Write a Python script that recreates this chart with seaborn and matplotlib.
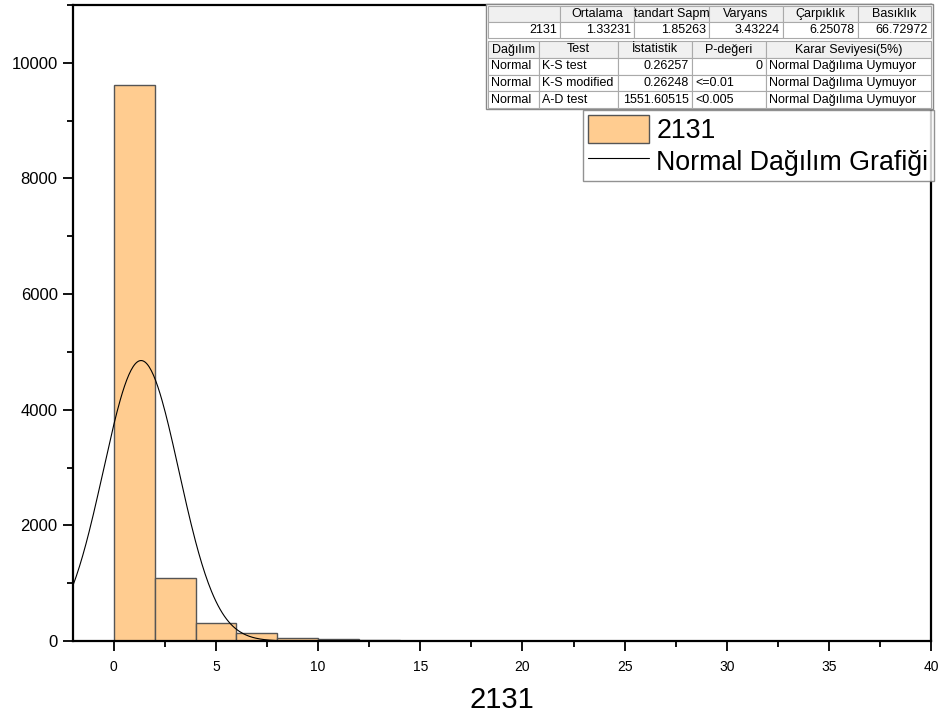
import numpy as np
import pandas as pd
import matplotlib
matplotlib.use("Agg")
import matplotlib.pyplot as plt
import seaborn as sns
from matplotlib.patches import Rectangle, Patch
from matplotlib.lines import Line2D

# Histogram of variable 2131 (bin width 2)
bin_edges = [0, 2, 4, 6, 8, 10, 12, 14]
bin_counts = [9620, 1085, 305, 135, 60, 38, 20]

# Descriptive statistics
stat_headers = ["", "Ortalama", "tandart Sapm", "Varyans", "Çarpıklık", "Basıklık"]
stat_values = ["2131", "1.33231", "1.85263", "3.43224", "6.25078", "66.72972"]
mean_val = 1.33231
sd_val = 1.85263

# Normality tests
test_headers = ["Dağılım", "Test", "İstatistik", "P-değeri", "Karar Seviyesi(5%)"]
test_rows = [
    ["Normal", "K-S test", "0.26257", "0", "Normal Dağılıma Uymuyor"],
    ["Normal", "K-S modified", "0.26248", "<=0.01", "Normal Dağılıma Uymuyor"],
    ["Normal", "A-D test", "1551.60515", "<0.005", "Normal Dağılıma Uymuyor"],
]

sns.set_theme(style="white")
plt.rcParams["font.family"] = ["Liberation Sans", "DejaVu Sans"]
plt.rcParams["text.color"] = "black"
plt.rcParams["axes.labelcolor"] = "black"
plt.rcParams["xtick.color"] = "black"
plt.rcParams["ytick.color"] = "black"

W, H = 944, 717
fig = plt.figure(figsize=(W / 100, H / 100), dpi=100)
ax = fig.add_axes([73 / W, 1 - 641 / H, (931 - 73) / W, (641 - 5) / H])

bar_color = "#FFCC90"
hist_df = pd.DataFrame({"x": [e + 1 for e in bin_edges[:-1]], "n": bin_counts})
sns.histplot(data=hist_df, x="x", weights="n", bins=bin_edges, ax=ax,
             color=bar_color, alpha=1.0, edgecolor="#555555", linewidth=1.0)

# Fitted normal curve scaled to counts per bin
n_total = sum(bin_counts)
bw = bin_edges[1] - bin_edges[0]
xs = np.linspace(-2, 40, 800)
ys = n_total * bw / (sd_val * np.sqrt(2 * np.pi)) * np.exp(-0.5 * ((xs - mean_val) / sd_val) ** 2)
sns.lineplot(x=xs, y=ys, ax=ax, color="black", linewidth=0.8)

ax.set_xticks(np.arange(0, 41, 5))
ax.set_xticks(np.arange(2.5, 41, 5), minor=True)
ax.set_yticks(np.arange(0, 10001, 2000))
ax.set_yticks(np.arange(1000, 11001, 2000), minor=True)
ax.set_xlim(-2, 40)
ax.set_ylim(0, 11000)
ax.tick_params(axis="both", which="major", direction="out", length=7, width=1.3,
               color="black", bottom=True, left=True)
ax.tick_params(axis="both", which="minor", direction="out", length=4, width=1.3,
               color="black", bottom=True, left=True)
ax.tick_params(axis="y", labelsize=12, pad=4)
ax.tick_params(axis="x", labelsize=10, pad=7)
for s in ax.spines.values():
    s.set_color("black")
    s.set_linewidth(1.6)
ax.set_xlabel("2131", fontsize=21, labelpad=8)
ax.set_ylabel("")

# Legend
handles = [Patch(facecolor=bar_color, edgecolor="#555555", linewidth=1.0, label="2131"),
           Line2D([0], [0], color="black", linewidth=0.8, label="Normal Dağılım Grafiği")]
leg = ax.legend(handles=handles, loc="upper right", bbox_to_anchor=(1.003, 1 - 105 / 636),
                fontsize=19.3, frameon=True, fancybox=False, edgecolor="#777777",
                handlelength=2.25, handleheight=1.2, handletextpad=0.28, borderpad=0.2,
                labelspacing=0.1, borderaxespad=0.0)
leg.get_frame().set_linewidth(1.0)


# Tables drawn in pixel space on the figure
def fx(x):
    return x / W


def fy(y):
    return 1 - y / H


def cell(x0, x1, y0, y1, text, align, face, fs=9.0):
    fig.add_artist(Rectangle((fx(x0), fy(y1)), fx(x1) - fx(x0), fy(y0) - fy(y1),
                             transform=fig.transFigure, facecolor=face,
                             edgecolor="#aaaaaa", linewidth=0.8, zorder=5))
    if align == "center":
        tx, ha = (x0 + x1) / 2, "center"
    elif align == "right":
        tx, ha = x1 - 3, "right"
    else:
        tx, ha = x0 + 3, "left"
    t = fig.text(fx(tx), fy((y0 + y1) / 2), text, ha=ha, va="center",
                 fontsize=fs, color="black", zorder=6)
    t.set_clip_path(Rectangle((fx(x0), fy(y1)), fx(x1) - fx(x0), fy(y0) - fy(y1),
                              transform=fig.transFigure))


# Background panel
fig.add_artist(Rectangle((fx(486), fy(109)), fx(933) - fx(486), fy(4) - fy(109),
                         transform=fig.transFigure, facecolor="white",
                         edgecolor="#888888", linewidth=1.0, zorder=4))

cols1 = [488, 560, 634, 709, 783, 858, 931]
for i, h in enumerate(stat_headers):
    cell(cols1[i], cols1[i + 1], 6, 22, h, "center", "#f0f0f0")
for i, v in enumerate(stat_values):
    cell(cols1[i], cols1[i + 1], 22, 38, v, "right", "white")

cols2 = [488, 539, 618, 692, 766, 931]
for i, h in enumerate(test_headers):
    cell(cols2[i], cols2[i + 1], 41, 58, h, "center", "#f0f0f0")
aligns = ["left", "left", "right", None, "left"]
for r, row in enumerate(test_rows):
    y0 = 58 + r * 16.7
    for i, v in enumerate(row):
        a = aligns[i]
        if a is None:
            a = "right" if v == "0" else "left"
        cell(cols2[i], cols2[i + 1], y0, y0 + 16.7, v, a, "white")

fig.savefig("out.png", dpi=100)
